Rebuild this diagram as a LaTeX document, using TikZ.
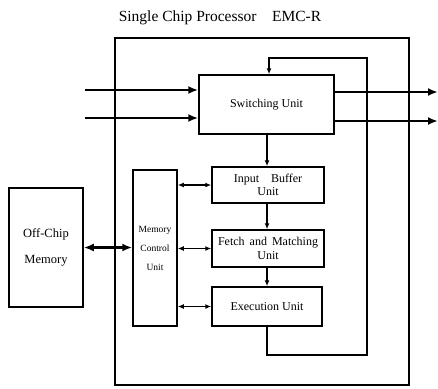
\documentclass[tikz,border=0pt]{standalone}
\usepackage{fontspec}
\setmainfont{Liberation Serif}
\usetikzlibrary{arrows.meta}
\begin{document}
\begin{tikzpicture}[x=1pt,y=-1pt,
  unitbox/.style={draw,line width=1.5pt,align=center,inner sep=0pt,font=\fontsize{12}{13.5}\selectfont},
  link/.style={line width=1.5pt},
  flow/.style={link,-{Latex[length=6pt,width=5pt]}},
  biflow/.style={link,{Latex[length=6pt,width=5pt]}-{Latex[length=6pt,width=5pt]}},
  bus/.style={line width=2.6pt,-{Latex[length=10pt,width=8pt]}},
  bibus/.style={line width=2.6pt,{Latex[length=10pt,width=8pt]}-{Latex[length=10pt,width=8pt]}}]
\useasboundingbox (0,0) rectangle (438,388);

% title
\node[font=\fontsize{15.5}{17}\selectfont] (title) at (220,18) {Single Chip Processor\quad EMC-R};

% chip outline
\node[draw,line width=1.7pt,minimum width=294pt,minimum height=347pt,inner sep=0pt] (chip) at (262,211.5) {};

% units
\node[unitbox,minimum width=135pt,minimum height=59pt] (sw) at (266.5,104.5) {Switching Unit};
\node[unitbox,minimum width=112pt,minimum height=36pt] (ib) at (268,185) {Input\quad Buffer\\Unit};
\node[unitbox,minimum width=112pt,minimum height=37pt] (fm) at (268,248.5) {Fetch\, and\, Matching\\Unit};
\node[unitbox,minimum width=110pt,minimum height=39pt] (ex) at (267,306.5) {Execution Unit};
\node[unitbox,minimum width=44pt,minimum height=156pt,font=\fontsize{9.5}{19}\selectfont] (mcu) at (155,248) {Memory\\Control\\Unit};
\node[unitbox,minimum width=74pt,minimum height=119pt,font=\fontsize{12.5}{26}\selectfont] (ocm) at (46,247.5) {Off-Chip\\Memory};

% free ends of the external buses
\coordinate (in1) at (85,90);
\coordinate (in2) at (85,118);
\coordinate (out1) at (438,92);
\coordinate (out2) at (438,121);

% external buses
\draw[bus] (in1) -- (in1 -| sw.west);
\draw[bus] (in2) -- (in2 -| sw.west);
\draw[bus] (out1 -| sw.east) -- (out1);
\draw[bus] (out2 -| sw.east) -- (out2);
\draw[bibus] (ocm.east) -- (ocm.east -| mcu.west);

% pipeline
\draw[flow] (sw.south -| 267,0) -- (ib.north -| 267,0);
\draw[flow] (ib.south -| 267,0) -- (fm.north -| 267,0);
\draw[flow] (fm.south -| 267,0) -- (ex.north -| 267,0);

% memory control links
\draw[biflow] (mcu.east |- ib.west) -- (ib.west);
\draw[biflow] (mcu.east |- fm.west) -- (fm.west);
\draw[biflow] (mcu.east |- ex.west) -- (ex.west);

% feedback from execution back to switching
\draw[flow] (ex.south -| 267,0) -- (267,355) -- (367,355) -- (367,58) -- (269,58) -- (sw.north -| 269,0);
\end{tikzpicture}
\end{document}
